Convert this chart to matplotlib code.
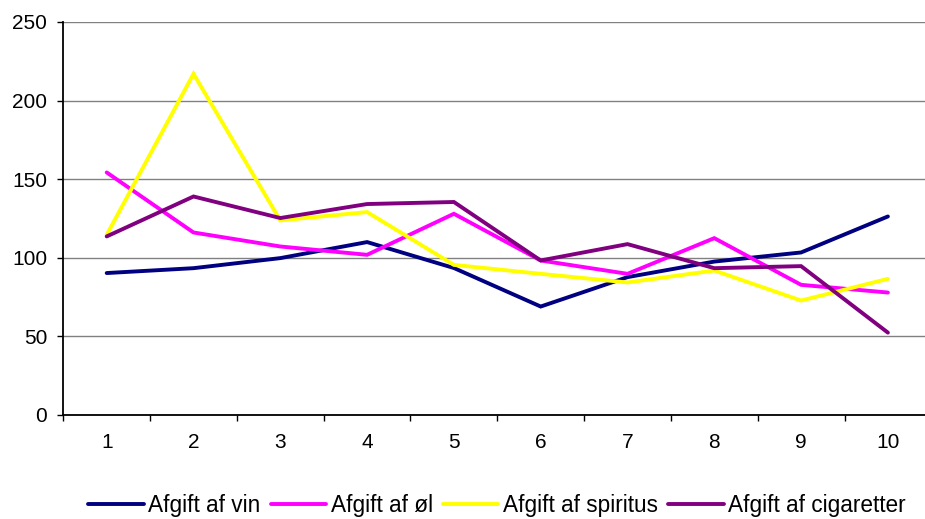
import matplotlib
matplotlib.use("Agg")
from matplotlib import pyplot as plt
from matplotlib.ticker import FixedLocator

# categories on the x axis
CATEGORIES = [1, 2, 3, 4, 5, 6, 7, 8, 9, 10]

# series values
VIN = [90.3, 93.4, 99.8, 110.0, 93.5, 69.0, 87.7, 97.6, 103.4, 126.3]
OEL = [154.3, 116.1, 107.2, 101.9, 128.0, 98.3, 89.8, 112.5, 82.8, 77.9]
SPIRITUS = [114.6, 217.0, 123.8, 129.1, 95.5, 89.8, 84.3, 91.9, 72.8, 86.6]
CIGARETTER = [113.6, 139.0, 125.3, 134.2, 135.5, 98.3, 108.7, 93.4, 94.7, 52.4]

SERIES = [
    ("Afgift af vin", VIN, "#000080"),
    ("Afgift af øl", OEL, "#FF00FF"),
    ("Afgift af spiritus", SPIRITUS, "#FFFF00"),
    ("Afgift af cigaretter", CIGARETTER, "#800080"),
]
Y_TICKS = [0, 50, 100, 150, 200, 250]

plt.rcParams["font.family"] = ["Liberation Sans", "DejaVu Sans"]

fig = plt.figure(figsize=(9.25, 5.19), dpi=100)
ax = fig.add_axes([63.3 / 925, 104 / 519, 868 / 925, 393 / 519])

for label, values, color in SERIES:
    ax.plot(CATEGORIES, values, color=color, linewidth=2.8, label=label,
            solid_joinstyle="miter", solid_capstyle="round")

ax.set_xlim(0.5, 10.5)
ax.set_ylim(0, 250)
ax.set_yticks(Y_TICKS)
ax.set_xticks(CATEGORIES)
ax.xaxis.set_minor_locator(FixedLocator([c - 0.5 for c in CATEGORIES] + [10.5]))

ax.yaxis.grid(True, color="#808080", linewidth=1.0)
ax.set_axisbelow(True)

for side in ("top", "right"):
    ax.spines[side].set_visible(False)
for side in ("left", "bottom"):
    ax.spines[side].set_linewidth(1.3)
    ax.spines[side].set_color("black")

ax.tick_params(axis="y", direction="out", length=4.5, width=1.0, pad=7, labelsize=15)
ax.tick_params(axis="x", which="major", length=0, pad=13, labelsize=15)
ax.tick_params(axis="x", which="minor", direction="out", length=4, width=1.0)

fig.legend(
    loc="center",
    bbox_to_anchor=(497 / 925, 1 - 505.5 / 519),
    ncol=4,
    frameon=False,
    fontsize=16.3,
    borderpad=0,
    handlelength=2.45,
    handletextpad=0.2,
    columnspacing=0.45,
)

fig.savefig("out.png", dpi=100)
